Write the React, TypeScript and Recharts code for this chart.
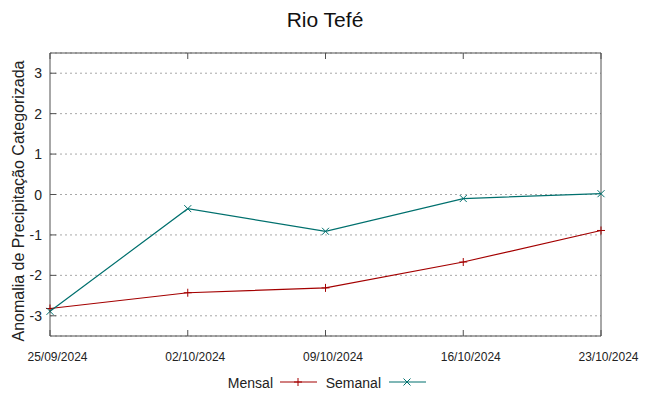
import { LineChart, Line, XAxis, YAxis, CartesianGrid } from "recharts";

const dates = ["25/09/2024", "02/10/2024", "09/10/2024", "16/10/2024", "23/10/2024"];
const mensal = [-2.82, -2.43, -2.31, -1.67, -0.89];
const semanal = [-2.89, -0.35, -0.91, -0.1, 0.02];
const yTicks = [-3, -2, -1, 0, 1, 2, 3];

const RED = "#a40000";
const TEAL = "#00706e";
const FRAME = "#505050";
const FONT = "'Liberation Sans', Arial, sans-serif";

const data = dates.map((d, i) => ({ date: d, mensal: mensal[i], semanal: semanal[i] }));

const PlusDot = (props: any) => {
  const { cx, cy, stroke } = props;
  if (cx == null || cy == null) return null;
  return (
    <g stroke={stroke} strokeWidth={1}>
      <line x1={cx - 4} y1={cy} x2={cx + 4} y2={cy} />
      <line x1={cx} y1={cy - 4} x2={cx} y2={cy + 4} />
    </g>
  );
};

const CrossDot = (props: any) => {
  const { cx, cy, stroke } = props;
  if (cx == null || cy == null) return null;
  return (
    <g stroke={stroke} strokeWidth={1}>
      <line x1={cx - 3.5} y1={cy - 3.5} x2={cx + 3.5} y2={cy + 3.5} />
      <line x1={cx - 3.5} y1={cy + 3.5} x2={cx + 3.5} y2={cy - 3.5} />
    </g>
  );
};

// gnuplot puts the date labels a bit right of their tick
const BottomTick = ({ x, y, payload }: any) => (
  <g>
    <line x1={x} y1={y} x2={x} y2={y - 6} stroke={FRAME} />
    <text x={x + 7.5} y={y + 25} textAnchor="middle" fontSize={12} fill="#222" fontFamily={FONT}>
      {payload.value}
    </text>
  </g>
);

const TopTick = ({ x, y }: any) => <line x1={x} y1={y} x2={x} y2={y + 6} stroke={FRAME} />;

const LeftTick = ({ x, y, payload }: any) => (
  <g>
    <line x1={x} y1={y} x2={x + 6} y2={y} stroke={FRAME} />
    <text x={x - 8} y={y + 5} textAnchor="end" fontSize={14} fill="#222" fontFamily={FONT}>
      {payload.value}
    </text>
  </g>
);

const RightTick = ({ x, y }: any) => <line x1={x} y1={y} x2={x - 6} y2={y} stroke={FRAME} />;

export default function App() {
  return (
    <div style={{ position: "absolute", left: 0, top: 0, width: 649, height: 396, background: "#fff" }}>
      <LineChart width={649} height={396} data={data} margin={{ top: 52, right: 47, bottom: 59, left: 49 }}>
        <CartesianGrid vertical={false} stroke="#a8a8a8" strokeDasharray="2 3" xAxisId="bottom" yAxisId="left" />
        <XAxis
          dataKey="date"
          xAxisId="bottom"
          height={1}
          tickSize={0}
          tickMargin={0}
          tick={<BottomTick />}
          axisLine={{ stroke: FRAME }}
          interval={0}
          padding={{ left: 0, right: 0 }}
        />
        <XAxis
          dataKey="date"
          xAxisId="top"
          orientation="top"
          height={1}
          tickSize={0}
          tickMargin={0}
          tick={<TopTick />}
          axisLine={{ stroke: FRAME }}
          interval={0}
        />
        <YAxis
          yAxisId="left"
          width={1}
          domain={[-3.5, 3.5]}
          ticks={yTicks}
          tickSize={0}
          tickMargin={0}
          tick={<LeftTick />}
          axisLine={{ stroke: FRAME }}
          allowDataOverflow
        />
        <YAxis
          yAxisId="right"
          orientation="right"
          width={1}
          domain={[-3.5, 3.5]}
          ticks={yTicks}
          tickSize={0}
          tickMargin={0}
          tick={<RightTick />}
          axisLine={{ stroke: FRAME }}
        />
        <Line
          xAxisId="bottom"
          yAxisId="left"
          dataKey="mensal"
          name="Mensal"
          stroke={RED}
          strokeWidth={1.2}
          dot={<PlusDot />}
          activeDot={false}
          type="linear"
          isAnimationActive={false}
        />
        <Line
          xAxisId="bottom"
          yAxisId="left"
          dataKey="semanal"
          name="Semanal"
          stroke={TEAL}
          strokeWidth={1.2}
          dot={<CrossDot />}
          activeDot={false}
          type="linear"
          isAnimationActive={false}
        />
      </LineChart>
      <svg
        width={649}
        height={396}
        style={{ position: "absolute", left: 0, top: 0, pointerEvents: "none" }}
        fontFamily={FONT}
      >
        <text x={325} y={27} textAnchor="middle" fontSize={21} fill="#111">
          Rio Tefé
        </text>
        <text
          x={0}
          y={0}
          transform="translate(24,201) rotate(-90)"
          textAnchor="middle"
          fontSize={16}
          fill="#222"
        >
          Anomalia de Precipitação Categorizada
        </text>
        <text x={273} y={388} textAnchor="end" fontSize={14} fill="#222">
          Mensal
        </text>
        <line x1={280} y1={382} x2={317} y2={382} stroke={RED} strokeWidth={1.2} />
        <PlusDot cx={298} cy={382} stroke={RED} />
        <text x={381} y={388} textAnchor="end" fontSize={14} fill="#222">
          Semanal
        </text>
        <line x1={389} y1={382} x2={426} y2={382} stroke={TEAL} strokeWidth={1.2} />
        <CrossDot cx={407} cy={382} stroke={TEAL} />
      </svg>
    </div>
  );
}
